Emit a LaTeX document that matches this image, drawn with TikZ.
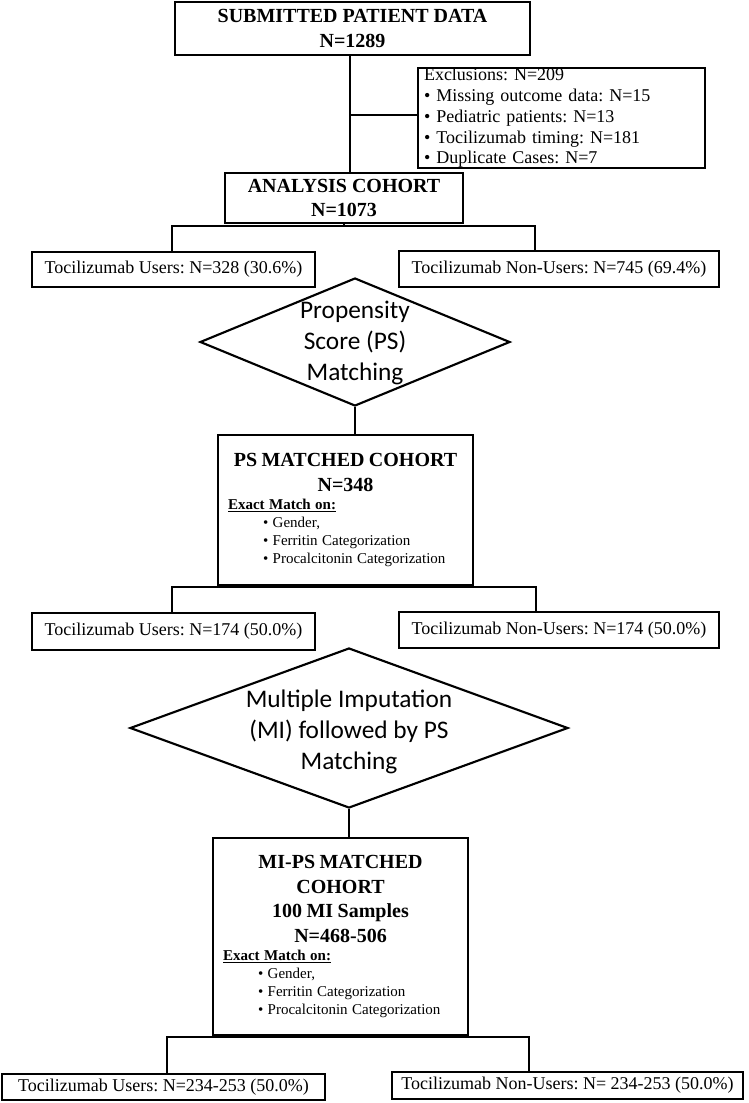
\documentclass[tikz,border=0pt]{standalone}
\usepackage{fontspec}
\setmainfont{Liberation Serif}
\newfontfamily\calibri{Carlito}
\usetikzlibrary{shapes.geometric}
\frenchspacing
\newlength{\unitpx}\setlength{\unitpx}{0.75pt}
\newcommand{\titlefont}{\bfseries\fontsize{15}{18.5}\selectfont}
\newcommand{\armfont}{\fontsize{13.5}{16}\selectfont}
\newcommand{\exclfont}{\fontsize{13.5}{15.6}\selectfont}
\newcommand{\listfont}{\fontsize{11.25}{13.5}\selectfont}
\newcommand{\diafont}{\calibri\fontsize{19}{23}\selectfont}
\newcommand{\matchlist}{%
  {\listfont\underline{\textbf{Exact Match on:}}\\
  \hspace*{35\unitpx}\textbullet\ Gender,\\
  \hspace*{35\unitpx}\textbullet\ Ferritin Categorization\\
  \hspace*{35\unitpx}\textbullet\ Procalcitonin Categorization\par}}

\begin{document}
\begin{tikzpicture}[x=0.75pt,y=-0.75pt,
    box/.style={draw,line width=2.2pt,inner sep=0pt,align=center},
    link/.style={line width=2pt},
    decision/.style={draw,diamond,line width=1.6pt,inner sep=0pt},
    cohort/.style={box,text width=235\unitpx,inner xsep=10\unitpx,align=left}]
  \useasboundingbox (0,0) rectangle (749,1103);

  % submitted data and exclusions
  \node[box,minimum width=355\unitpx,minimum height=53\unitpx,font=\titlefont] (sub) at (352.5,28.5) {SUBMITTED PATIENT DATA\\N=1289};
  \node[box,text width=275\unitpx,inner xsep=6\unitpx,minimum height=100\unitpx,align=left,font=\exclfont] (excl) at (561.5,118) {Exclusions: N=209\\
    \textbullet\ Missing outcome data: N=15\\
    \textbullet\ Pediatric patients: N=13\\
    \textbullet\ Tocilizumab timing: N=181\\
    \textbullet\ Duplicate Cases: N=7};
  \node[box,minimum width=238\unitpx,minimum height=50\unitpx,font=\titlefont] (an) at (344,198) {ANALYSIS COHORT\\N=1073};
  \coordinate (j0) at (350,115);
  \draw[link] (j0 |- sub.south) -- (j0 |- an.north);
  \draw[link] (j0) -- (j0 -| excl.west);

  % first split
  \node[box,minimum width=283\unitpx,minimum height=35\unitpx,font=\armfont] (u1) at (173.5,269.5) {Tocilizumab Users: N=328 (30.6\%)};
  \node[box,minimum width=320\unitpx,minimum height=36\unitpx,font=\armfont] (nu1) at (559,269) {Tocilizumab Non-Users: N=745 (69.4\%)};
  \coordinate (j1l) at (172,226);
  \coordinate (j1r) at (535,226);
  \draw[link] (an.south) -- (an.south |- j1l);
  \draw[link] (j1l |- u1.north) -- (j1l) -- (j1r) -- (j1r |- nu1.north);

  % propensity score matching
  \node[decision,minimum width=310\unitpx,minimum height=128\unitpx] (d1) at (355,342) {};
  \node[font=\diafont,align=center] (d1txt) at (355,343) {Propensity\\Score (PS)\\Matching};
  \node[cohort,minimum height=150\unitpx] (ps) at (345.5,510) {%
    {\centering\titlefont PS MATCHED COHORT\\N=348\par}
    \matchlist};
  \draw[link] (d1.south) -- (d1.south |- ps.north);

  % second split
  \node[box,minimum width=283\unitpx,minimum height=37\unitpx,font=\armfont] (u2) at (173.5,631.5) {Tocilizumab Users: N=174 (50.0\%)};
  \node[box,minimum width=320\unitpx,minimum height=36\unitpx,font=\armfont] (nu2) at (559,630) {Tocilizumab Non-Users: N=174 (50.0\%)};
  \coordinate (j2l) at (172,587);
  \coordinate (j2r) at (536,587);
  \draw[link] (ps.south) -- (ps.south |- j2l);
  \draw[link] (j2l |- u2.north) -- (j2l) -- (j2r) -- (j2r |- nu2.north);

  % multiple imputation
  \node[decision,minimum width=438\unitpx,minimum height=160\unitpx] (d2) at (349,728) {};
  \node[font=\diafont,align=center] (d2txt) at (349,732) {Multiple Imputation\\(MI) followed by PS\\Matching};
  \node[cohort,minimum height=197\unitpx] (mi) at (340.5,936.5) {%
    {\centering\titlefont MI-PS MATCHED\\COHORT\\100 MI Samples\\N=468-506\par}
    \matchlist};
  \draw[link] (d2.south) -- (d2.south |- mi.north);

  % third split
  \node[box,minimum width=323\unitpx,minimum height=26\unitpx,font=\armfont] (u3) at (163.5,1087) {Tocilizumab Users: N=234-253 (50.0\%)};
  \node[box,minimum width=351\unitpx,minimum height=27\unitpx,font=\armfont] (nu3) at (567.5,1085.5) {Tocilizumab Non-Users: N= 234-253 (50.0\%)};
  \coordinate (j3l) at (167,1037);
  \coordinate (j3r) at (529,1037);
  \draw[link] (mi.south) -- (mi.south |- j3l);
  \draw[link] (j3l |- u3.north) -- (j3l) -- (j3r) -- (j3r |- nu3.north);
\end{tikzpicture}
\end{document}
